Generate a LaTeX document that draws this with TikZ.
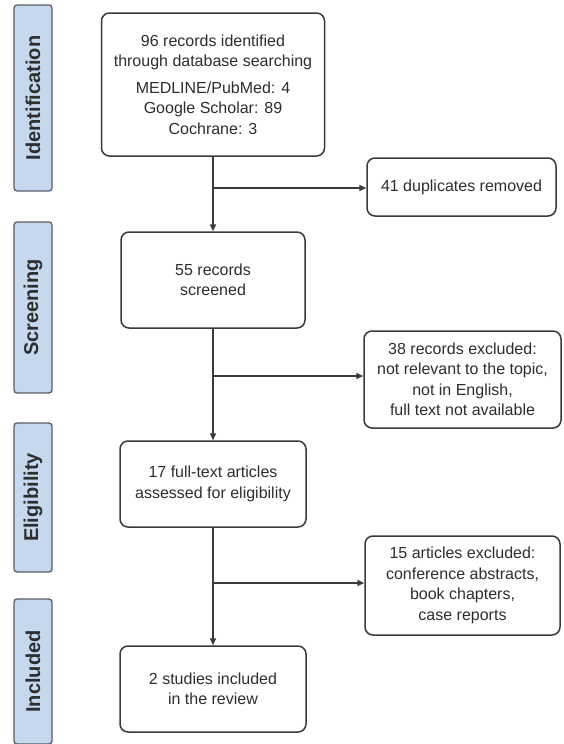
\documentclass[tikz,border=0pt]{standalone}
\usepackage{fontspec}
\setmainfont{Liberation Sans}
\usetikzlibrary{arrows.meta}
\definecolor{linec}{HTML}{3A3A3A}
\definecolor{textc}{HTML}{2E2E2E}
\definecolor{barfill}{HTML}{C5D8EE}
\definecolor{barline}{HTML}{5A5F66}
\tikzset{
  flowbox/.style={draw=linec, line width=1.5pt, rounded corners=8pt, fill=white,
    align=center, text=textc, inner sep=2pt,
    font=\fontsize{16}{20.5}\selectfont},
  phasebar/.style={draw=barline, line width=1.3pt, rounded corners=3pt, fill=barfill,
    text=textc, rotate=90,
    font=\fontsize{20}{24}\selectfont\bfseries},
  arr/.style={draw=linec, line width=1.6pt, -{Triangle[length=7pt,width=6pt]}},
}
\begin{document}
\begin{tikzpicture}[x=1pt,y=-1pt]
\useasboundingbox (0,0) rectangle (564,744);
% phase bars (rotated: minimum height is the horizontal extent)
\node[phasebar, minimum width=186pt, minimum height=38pt] (ident) at (33,98) {Identification};
\node[phasebar, minimum width=171pt, minimum height=38pt] (screen) at (33,307.5) {Screening};
\node[phasebar, minimum width=149pt, minimum height=38pt] (elig) at (33,497.5) {Eligibility};
\node[phasebar, minimum width=145pt, minimum height=38pt] (incl) at (33,671.5) {Included};
% main boxes
\node[flowbox, minimum width=223pt, minimum height=143pt] (b1) at (213,84.5)
  {96 records identified\\through database searching\\[6pt]MEDLINE/PubMed: 4\\Google Scholar: 89\\Cochrane: 3};
\node[flowbox, minimum width=184pt, minimum height=96pt] (b2) at (213,280)
  {55 records\\screened};
\node[flowbox, minimum width=186pt, minimum height=86pt] (b3) at (213,484)
  {17 full-text articles\\assessed for eligibility};
\node[flowbox, minimum width=186pt, minimum height=86pt] (b4) at (213,689)
  {2 studies included\\in the review};
% side boxes
\node[flowbox, minimum width=189pt, minimum height=58pt] (dup) at (461.5,187)
  {41 duplicates removed};
\node[flowbox, minimum width=197pt, minimum height=97pt] (ex1) at (462.5,379.5)
  {38 records excluded:\\not relevant to the topic,\\not in English,\\full text not available};
\node[flowbox, minimum width=195pt, minimum height=99pt] (ex2) at (462.5,585.5)
  {15 articles excluded:\\conference abstracts,\\book chapters,\\case reports};
% connectors
\coordinate (j1) at (213,188);
\coordinate (j2) at (213,376);
\coordinate (j3) at (213,583);
\draw[arr] (b1.south) -- (b2.north);
\draw[arr] (j1) -- (j1 -| dup.west);
\draw[arr] (b2.south) -- (b3.north);
\draw[arr] (j2) -- (j2 -| ex1.west);
\draw[arr] (b3.south) -- (b4.north);
\draw[arr] (j3) -- (j3 -| ex2.west);
\end{tikzpicture}
\end{document}
